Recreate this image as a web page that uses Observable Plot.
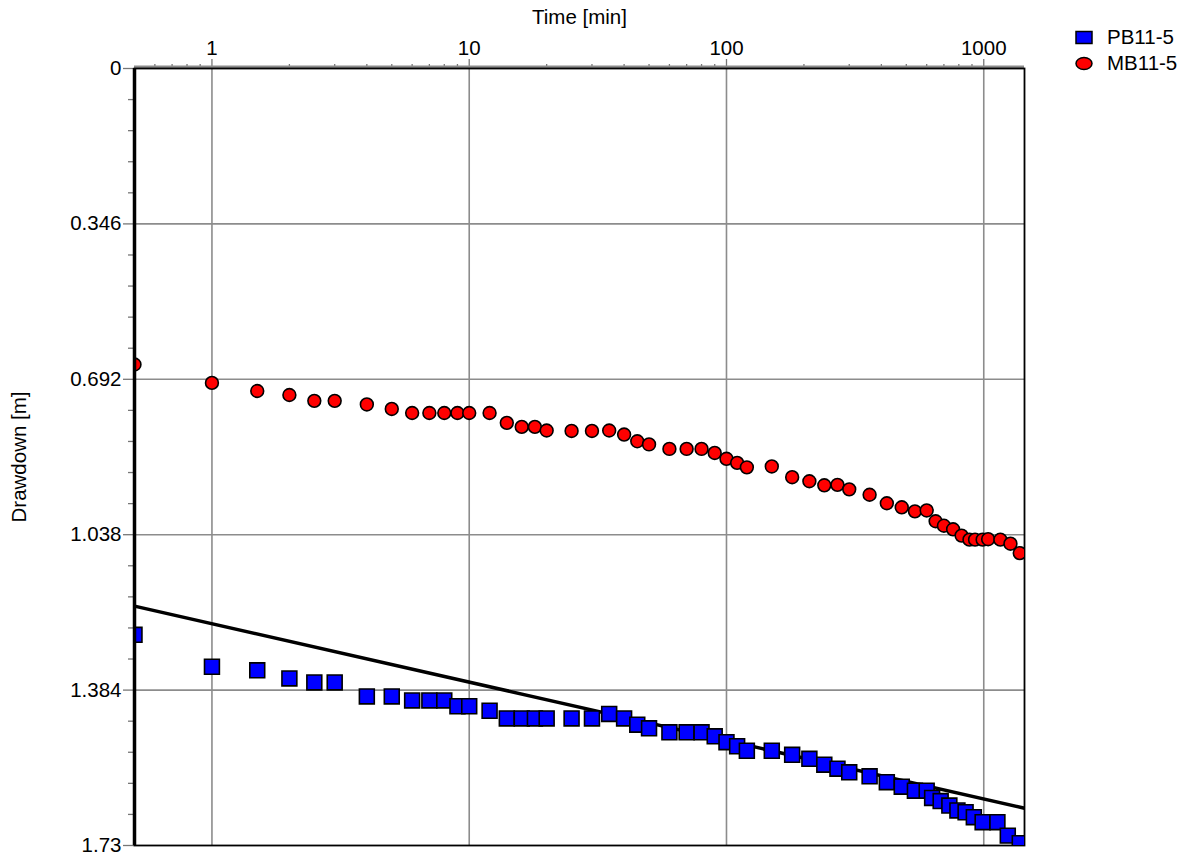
<!DOCTYPE html>
<html><head><meta charset="utf-8">
<script src="https://cdn.jsdelivr.net/npm/d3@7"></script>
<script src="https://cdn.jsdelivr.net/npm/@observablehq/plot@0.6"></script>
<style>
body{margin:0;background:#fff;font-family:"Liberation Sans",Arial,sans-serif;}
#wrap{position:relative;width:1199px;height:855px;overflow:hidden;}
#legend{position:absolute;left:1075px;top:24px;font-size:20.5px;color:#000;line-height:26px;}
#legend div{display:flex;align-items:center;}
#legend svg{margin-right:14px;}
</style></head><body>
<div id="wrap"><div id="chart"></div><div id="legend"></div></div>
<script>
// ---- data ----
const seriesNames = ["PB11-5", "MB11-5"];
const seriesColors = ["#0000ff", "#ff0000"];

const pbTime = [0.5,1,1.5,2,2.5,3,4,5,6,7,8,9,10,12,14,16,18,20,25,30,35,40,45,50,60,70,80,90,100,110,120,150,180,210,240,270,300,360,420,480,540,600,630,680,735,790,850,915,990,1130,1240,1380];
const pbDraw = [1.261,1.332,1.340,1.358,1.367,1.367,1.398,1.398,1.407,1.407,1.407,1.420,1.420,1.430,1.447,1.447,1.447,1.447,1.447,1.447,1.437,1.447,1.461,1.469,1.478,1.478,1.478,1.487,1.500,1.509,1.519,1.519,1.528,1.537,1.550,1.559,1.567,1.576,1.589,1.599,1.608,1.608,1.624,1.631,1.641,1.652,1.656,1.667,1.678,1.678,1.708,1.725];

const mbTime = [0.5,1,1.5,2,2.5,3,4,5,6,7,8,9,10,12,14,16,18,20,25,30,35,40,45,50,60,70,80,90,100,110,120,150,180,210,240,270,300,360,420,480,540,600,650,700,760,820,880,925,990,1040,1160,1270,1380];
const mbDraw = [0.659,0.700,0.718,0.727,0.740,0.740,0.748,0.758,0.767,0.767,0.767,0.767,0.767,0.767,0.789,0.798,0.798,0.806,0.807,0.807,0.806,0.815,0.830,0.837,0.847,0.847,0.847,0.856,0.869,0.878,0.888,0.886,0.910,0.919,0.928,0.927,0.937,0.949,0.968,0.977,0.986,0.984,1.008,1.018,1.026,1.040,1.049,1.049,1.049,1.048,1.049,1.058,1.079];

const fitTime = [0.5, 1440];
const fitDraw = [1.197, 1.647];

const xDomain = [0.5, 1440];
const xMajorTicks = [1, 10, 100, 1000];
const xTickLabels = ["1", "10", "100", "1000"];
const xMinorTicks = [0.6,0.7,0.8,0.9,2,3,4,5,6,7,8,9,20,30,40,50,60,70,80,90,200,300,400,500,600,700,800,900];
const yDomain = [0, 1.73];
const yMajorTicks = [0, 0.346, 0.692, 1.038, 1.384, 1.73];
const yTickLabels = ["0", "0.346", "0.692", "1.038", "1.384", "1.73"];
const yMinorTicks = [0.0692,0.1384,0.2076,0.2768,0.4152,0.4844,0.5536,0.6228,0.7612,0.8304,0.8996,0.9688,1.1072,1.1764,1.2456,1.3148,1.4532,1.5224,1.5916,1.6608];

// ---- tables ----
const pb = pbTime.map((t, i) => ({t, s: pbDraw[i]}));
const mb = mbTime.map((t, i) => ({t, s: mbDraw[i]}));
const fit = fitTime.map((t, i) => ({t, s: fitDraw[i]}));

const fs = 20.5;
const chart = Plot.plot({
  width: 1199,
  height: 855,
  marginLeft: 134,
  marginRight: 175,
  marginTop: 68,
  marginBottom: 10,
  style: {fontFamily: "'Liberation Sans', Arial, sans-serif", fontSize: fs + "px", color: "#000", background: "#fff"},
  x: {type: "log", domain: xDomain},
  y: {domain: yDomain, reverse: true},
  marks: [
    Plot.gridX(xMajorTicks, {stroke: "#8c8c8c", strokeOpacity: 1, strokeWidth: 1.6}),
    Plot.gridY(yMajorTicks.slice(1, -1), {stroke: "#8c8c8c", strokeOpacity: 1, strokeWidth: 1.6}),
    Plot.axisX(xMinorTicks, {anchor: "top", tickSize: 5, tickFormat: () => "", stroke: "#777", strokeWidth: 1.3, label: null}),
    Plot.axisX(xMajorTicks, {anchor: "top", tickSize: 10, tickPadding: 4, tickFormat: d => xTickLabels[xMajorTicks.indexOf(d)], stroke: "#777", strokeWidth: 1.3, fontSize: fs,
      label: "Time [min]", labelAnchor: "center", labelOffset: 59, labelArrow: "none"}),
    Plot.axisY(yMinorTicks, {anchor: "left", tickSize: 6, tickFormat: () => "", stroke: "#777", strokeWidth: 1.3, label: null}),
    Plot.axisY(yMajorTicks, {anchor: "left", tickSize: 11, tickPadding: 2, tickFormat: d => yTickLabels[yMajorTicks.indexOf(d)], stroke: "#777", strokeWidth: 1.3, fontSize: fs,
      label: "Drawdown [m]", labelAnchor: "center", labelOffset: 123, labelArrow: "none"}),
    Plot.ruleY([0], {stroke: "#8c8c8c", strokeWidth: 3, dy: -1.5}),
    Plot.frame({stroke: "#000", strokeWidth: 1.8}),
    Plot.line(fit, {x: "t", y: "s", stroke: "#000", strokeWidth: 3.5, clip: true}),
    Plot.dot(pb, {x: "t", y: "s", symbol: "square", r: 8.4, fill: seriesColors[0], fillOpacity: 1, stroke: "#000", strokeWidth: 1.6, clip: true}),
    Plot.dot(mb, {x: "t", y: "s", symbol: "circle", r: 6.4, fill: seriesColors[1], fillOpacity: 1, stroke: "#000", strokeWidth: 1.6, clip: true}),
    Plot.ruleX([xDomain[0]], {stroke: "#000", strokeWidth: 3.5})
  ]
});
document.getElementById("chart").appendChild(chart);

// legend
const legend = document.getElementById("legend");
seriesNames.forEach((name, i) => {
  const row = document.createElement("div");
  const shape = i === 0
    ? `<rect x="1" y="1.5" width="16" height="12" fill="${seriesColors[i]}" stroke="#000" stroke-width="1.5"/>`
    : `<ellipse cx="9" cy="7.5" rx="8" ry="6" fill="${seriesColors[i]}" stroke="#000" stroke-width="1.5"/>`;
  row.innerHTML = `<svg width="18" height="15">${shape}</svg><span>${name}</span>`;
  legend.appendChild(row);
});
</script>
</body></html>
